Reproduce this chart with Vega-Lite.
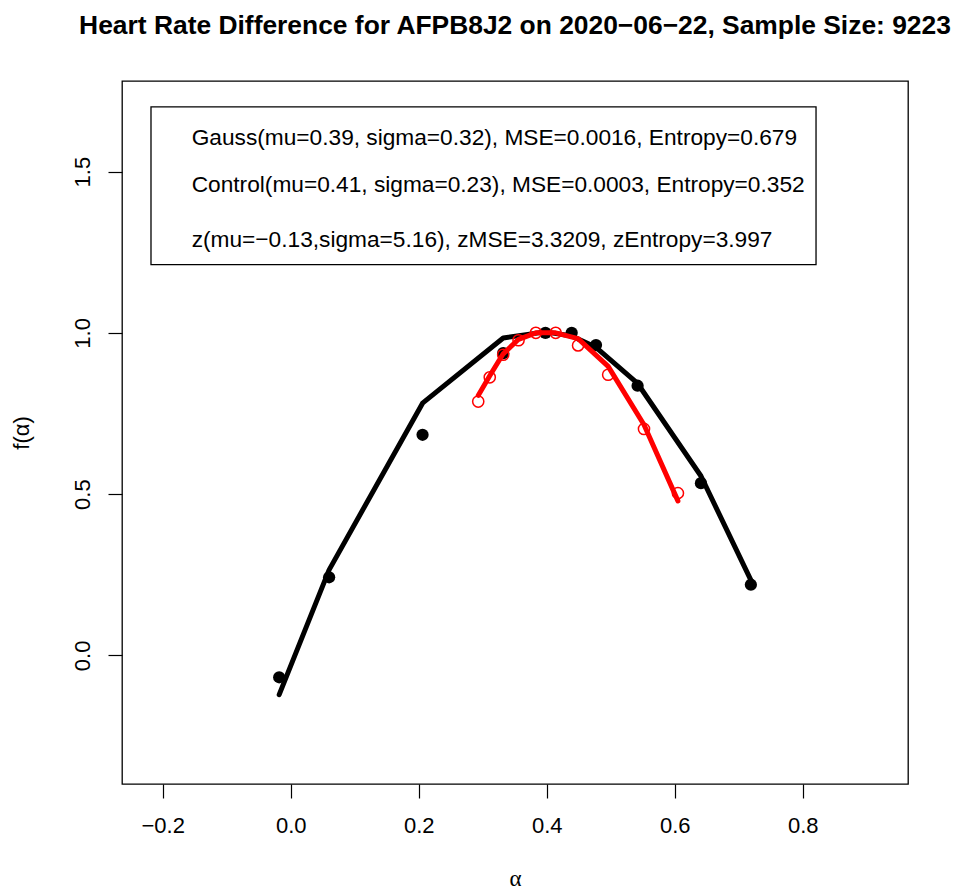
{
  "$schema": "https://vega.github.io/schema/vega-lite/v6.json",
  "width": 786,
  "height": 703,
  "autosize": {"type": "none"},
  "padding": {"left": 122, "top": 81, "right": 46, "bottom": 107},
  "background": "white",
  "title": {
    "text": "Heart Rate Difference for AFPB8J2 on 2020−06−22, Sample Size: 9223",
    "font": "Liberation Sans",
    "fontSize": 26.4,
    "fontWeight": "bold",
    "color": "black",
    "anchor": "middle",
    "frame": "group",
    "offset": 42
  },
  "config": {
    "view": {"stroke": "black", "strokeWidth": 1.3},
    "font": "Liberation Sans"
  },
  "datasets": {
    "gauss": [
      {"x": -0.018, "y": -0.068, "fit": -0.122},
      {"x": 0.060, "y": 0.242, "fit": 0.265},
      {"x": 0.206, "y": 0.684, "fit": 0.782},
      {"x": 0.332, "y": 0.937, "fit": 0.984},
      {"x": 0.398, "y": 1.0, "fit": 1.003},
      {"x": 0.439, "y": 1.0, "fit": 0.99},
      {"x": 0.477, "y": 0.962, "fit": 0.955},
      {"x": 0.542, "y": 0.836, "fit": 0.843},
      {"x": 0.641, "y": 0.534, "fit": 0.556},
      {"x": 0.719, "y": 0.219, "fit": 0.233}
    ],
    "control": [
      {"x": 0.293, "y": 0.787, "fit": 0.806},
      {"x": 0.311, "y": 0.862, "fit": 0.867},
      {"x": 0.332, "y": 0.932, "fit": 0.935},
      {"x": 0.356, "y": 0.977, "fit": 0.980},
      {"x": 0.383, "y": 1.0, "fit": 1.0},
      {"x": 0.414, "y": 1.0, "fit": 1.0},
      {"x": 0.449, "y": 0.961, "fit": 0.982},
      {"x": 0.496, "y": 0.870, "fit": 0.896},
      {"x": 0.552, "y": 0.702, "fit": 0.715},
      {"x": 0.605, "y": 0.503, "fit": 0.479}
    ]
  },
  "layer": [
    {
      "data": {"name": "gauss"},
      "mark": {"type": "point", "filled": true, "shape": "circle", "size": 150, "color": "black", "opacity": 1},
      "encoding": {
        "x": {
          "field": "x", "type": "quantitative", "title": "α",
          "scale": {"domain": [-0.2636, 0.9645], "nice": false, "zero": false},
          "axis": {
            "values": [-0.2, 0, 0.2, 0.4, 0.6, 0.8],
            "format": ".1f",
            "grid": false, "domain": false,
            "tickSize": 14, "tickColor": "black", "tickWidth": 1.2,
            "labelFont": "Liberation Sans", "labelFontSize": 22, "labelColor": "black",
            "labelPadding": 17, "labelFlush": false, "labelOverlap": false,
            "titleFont": "Liberation Serif", "titleFontSize": 23,
            "titleFontWeight": "normal", "titleColor": "black", "titlePadding": 31
          }
        },
        "y": {
          "field": "y", "type": "quantitative", "title": "f(α)",
          "scale": {"domain": [-0.399, 1.781], "nice": false, "zero": false},
          "axis": {
            "values": [0, 0.5, 1, 1.5],
            "format": ".1f",
            "grid": false, "domain": false,
            "tickSize": 14, "tickColor": "black", "tickWidth": 1.2,
            "labelFont": "Liberation Sans", "labelFontSize": 22, "labelColor": "black",
            "labelAngle": 270, "labelAlign": "center", "labelBaseline": "bottom",
            "labelPadding": 14, "labelFlush": false, "labelOverlap": false,
            "titleFont": "Liberation Sans", "titleFontSize": 22,
            "titleFontWeight": "normal", "titleColor": "black", "titlePadding": 38
          }
        }
      }
    },
    {
      "data": {"name": "gauss"},
      "mark": {"type": "line", "color": "black", "strokeWidth": 5, "strokeCap": "round", "strokeJoin": "round"},
      "encoding": {
        "x": {"field": "x", "type": "quantitative", "title": "α"},
        "y": {"field": "fit", "type": "quantitative", "title": "f(α)"}
      }
    },
    {
      "data": {"name": "control"},
      "mark": {"type": "point", "filled": false, "shape": "circle", "size": 125, "color": "#ff0000", "strokeWidth": 1.5, "opacity": 1},
      "encoding": {
        "x": {"field": "x", "type": "quantitative", "title": "α"},
        "y": {"field": "y", "type": "quantitative", "title": "f(α)"}
      }
    },
    {
      "data": {"name": "control"},
      "mark": {"type": "line", "color": "#ff0000", "strokeWidth": 5, "strokeCap": "round", "strokeJoin": "round"},
      "encoding": {
        "x": {"field": "x", "type": "quantitative", "title": "α"},
        "y": {"field": "fit", "type": "quantitative", "title": "f(α)"}
      }
    },
    {
      "data": {"values": [{}]},
      "mark": {"type": "rect", "fill": null, "fillOpacity": 0, "stroke": "black", "strokeWidth": 1.3},
      "encoding": {
        "x": {"datum": -0.2183, "type": "quantitative", "title": "α"},
        "x2": {"datum": 0.8208},
        "y": {"datum": 1.7005, "type": "quantitative", "title": "f(α)"},
        "y2": {"datum": 1.2118}
      }
    },
    {
      "data": {"values": [{"label": "Gauss(mu=0.39, sigma=0.32), MSE=0.0016, Entropy=0.679"}]},
      "mark": {"type": "text", "align": "left", "baseline": "alphabetic", "font": "Liberation Sans", "fontSize": 22.7, "color": "black"},
      "encoding": {
        "x": {"datum": -0.1547, "type": "quantitative", "title": "α"},
        "y": {"datum": 1.5837, "type": "quantitative", "title": "f(α)"},
        "text": {"field": "label"}
      }
    },
    {
      "data": {"values": [{"label": "Control(mu=0.41, sigma=0.23), MSE=0.0003, Entropy=0.352"}]},
      "mark": {"type": "text", "align": "left", "baseline": "alphabetic", "font": "Liberation Sans", "fontSize": 22.7, "color": "black"},
      "encoding": {
        "x": {"datum": -0.1547, "type": "quantitative", "title": "α"},
        "y": {"datum": 1.4365, "type": "quantitative", "title": "f(α)"},
        "text": {"field": "label"}
      }
    },
    {
      "data": {"values": [{"label": "z(mu=−0.13,sigma=5.16), zMSE=3.3209, zEntropy=3.997"}]},
      "mark": {"type": "text", "align": "left", "baseline": "alphabetic", "font": "Liberation Sans", "fontSize": 22.7, "color": "black"},
      "encoding": {
        "x": {"datum": -0.1547, "type": "quantitative", "title": "α"},
        "y": {"datum": 1.266, "type": "quantitative", "title": "f(α)"},
        "text": {"field": "label"}
      }
    }
  ]
}
